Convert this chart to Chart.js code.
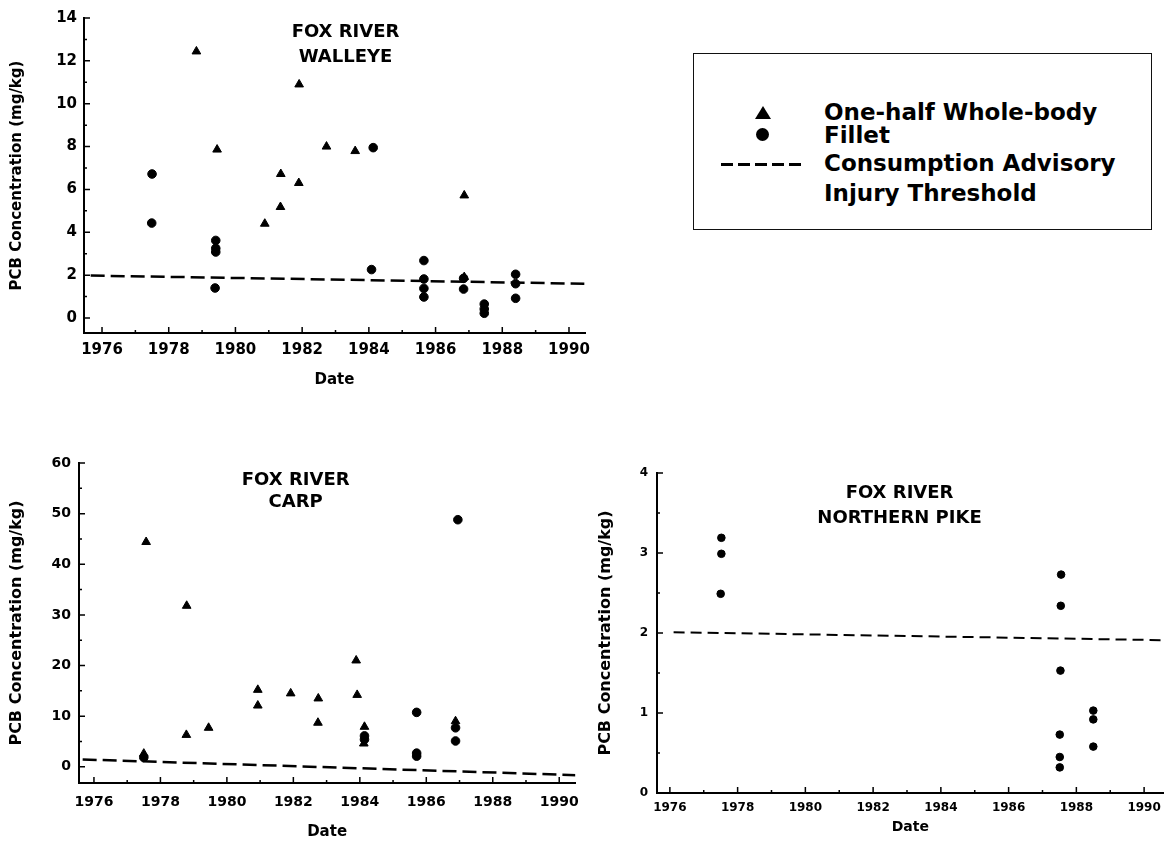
<!DOCTYPE html>
<html>
<head>
<meta charset="utf-8">
<title>Fox River PCB concentrations</title>
<script src="https://cdn.jsdelivr.net/npm/chart.js@4.4.1/dist/chart.umd.min.js"></script>
<style>
  body { margin: 0; background: #fff; width: 1169px; height: 848px; position: relative; overflow: hidden; font-family: "DejaVu Sans", sans-serif; }
  canvas { position: absolute; }
  #legend { position: absolute; left: 693px; top: 53px; width: 457px; height: 175px; border: 1.5px solid #111; }
  #legend .row { position: absolute; left: 130px; font-weight: bold; font-size: 23px; line-height: 1; color: #000; white-space: nowrap; }
  #legend .sym { position: absolute; }
  .tri { width: 0; height: 0; border-left: 8px solid transparent; border-right: 8px solid transparent; border-bottom: 13px solid #000; }
  .dot { width: 13px; height: 13px; border-radius: 50%; background: #000; }
  .dash { width: 80px; height: 2.5px; background: repeating-linear-gradient(to right, #000 0 12px, transparent 12px 17px); }
</style>
</head>
<body>
<canvas id="walleyeChart" width="600" height="400" style="left:0px;top:0px"></canvas>
<canvas id="carpChart" width="590" height="418" style="left:0px;top:430px"></canvas>
<canvas id="pikeChart" width="589" height="418" style="left:580px;top:430px"></canvas>

<div id="legend">
  <div class="sym tri" style="left:61px;top:52px"></div>
  <div class="sym dot" style="left:62px;top:74px"></div>
  <div class="sym dash" style="left:27px;top:109px"></div>
  <div class="row" style="top:47px">One-half Whole-body</div>
  <div class="row" style="top:70px">Fillet</div>
  <div class="row" style="top:98px">Consumption Advisory</div>
  <div class="row" style="top:128px">Injury Threshold</div>
</div>

<script>
// tick labels shared by all three panels
var yearTicks = [1976, 1978, 1980, 1982, 1984, 1986, 1988, 1990];

// walleye
var walleyeYTicks = [0, 2, 4, 6, 8, 10, 12, 14];
var walleyeWholeYear = [1978.83, 1979.45, 1980.88, 1981.35, 1981.36, 1981.91, 1981.90, 1982.73, 1983.59, 1986.86, 1986.86];
var walleyeWholePcb  = [12.44, 7.86, 4.40, 5.18, 6.72, 10.90, 6.30, 8.00, 7.79, 5.72, 1.91];
var walleyeFilletYear = [1977.50, 1977.49, 1979.41, 1979.41, 1979.41, 1979.39, 1984.13, 1984.08, 1985.65, 1985.65, 1985.65, 1985.65,
                         1986.84, 1986.84, 1987.46, 1987.46, 1987.46, 1988.40, 1988.40, 1988.40];
var walleyeFilletPcb  = [6.72, 4.43, 3.62, 3.25, 3.08, 1.40, 7.95, 2.26, 2.68, 1.82, 1.38, 0.98,
                         1.85, 1.35, 0.65, 0.42, 0.22, 2.04, 1.60, 0.92];
var walleyeAdvisoryYear = [1975.66, 1990.46];
var walleyeAdvisoryPcb  = [1.98, 1.60];

// carp
var carpYTicks = [0, 10, 20, 30, 40, 50, 60];
var carpWholeYear = [1977.57, 1977.50, 1978.79, 1978.78, 1979.45, 1980.93, 1980.93, 1981.92, 1982.75, 1982.74,
                     1983.89, 1983.92, 1984.14, 1984.12, 1986.88];
var carpWholePcb  = [44.4, 2.6, 31.8, 6.3, 7.7, 15.2, 12.1, 14.5, 13.5, 8.7, 21.0, 14.2, 7.9, 4.6, 9.0];
var carpFilletYear = [1977.50, 1986.95, 1985.71, 1985.71, 1985.71, 1984.14, 1984.14, 1986.88, 1986.88];
var carpFilletPcb  = [1.85, 48.8, 10.75, 2.7, 2.1, 6.1, 5.4, 7.7, 5.1];
var carpAdvisoryYear = [1975.66, 1990.51];
var carpAdvisoryPcb  = [1.45, -1.65];

// northern pike
var pikeYTicks = [0, 1, 2, 3, 4];
var pikeFilletYear = [1977.52, 1977.52, 1977.50, 1987.55, 1987.54, 1987.53, 1987.51, 1987.51, 1987.51, 1988.50, 1988.50, 1988.50];
var pikeFilletPcb  = [3.19, 2.99, 2.49, 2.73, 2.34, 1.53, 0.73, 0.45, 0.32, 1.03, 0.92, 0.58];
var pikeAdvisoryYear = [1976.11, 1990.58];
var pikeAdvisoryPcb  = [2.01, 1.91];

Chart.defaults.font.family = '"DejaVu Sans", sans-serif';
Chart.defaults.font.weight = 'bold';
Chart.defaults.color = '#000';

function toPoints(xs, ys)
{
    return xs.map(function (x, i) { return { x: x, y: ys[i] }; });
}

// short inward ticks like the original axes (major every other step)
var innerTicks = {
    id: 'innerTicks',
    afterDraw: function (chart, args, opts) {
        var ctx = chart.ctx, area = chart.chartArea;
        var xs = chart.scales.x, ys = chart.scales.y;
        ctx.save();
        ctx.strokeStyle = '#000';
        ctx.lineWidth = 1.5;
        ctx.beginPath();
        for (var v = Math.ceil(xs.min); v <= xs.max; v += 1) {
            var px = xs.getPixelForValue(v);
            ctx.moveTo(px, area.bottom);
            ctx.lineTo(px, area.bottom - (v % 2 === 0 ? 6 : 3));
        }
        var step = opts.yMinor;
        for (var k = Math.ceil(ys.min / step); k * step <= ys.max + 1e-9; k++) {
            var py = ys.getPixelForValue(k * step);
            ctx.moveTo(area.left, py);
            ctx.lineTo(area.left + (k % 2 === 0 ? 6 : 3), py);
        }
        ctx.stroke();
        ctx.restore();
    }
};

function panelTitle(lines, year, top, gap)
{
    return {
        id: 'panelTitle',
        afterDraw: function (chart) {
            var ctx = chart.ctx;
            var cx = chart.scales.x.getPixelForValue(year);
            ctx.save();
            ctx.fillStyle = '#000';
            ctx.font = 'bold 18px "DejaVu Sans"';
            ctx.textAlign = 'center';
            ctx.textBaseline = 'middle';
            lines.forEach(function (t, i) {
                ctx.fillText(t, cx, chart.chartArea.top + top + i * gap);
            });
            ctx.restore();
        }
    };
}

function createFishChart(id, s)
{
    var ctx = document.getElementById(id).getContext('2d');
    var datasets = [];

    if (s.whole) {
        datasets.push({
            label: 'One-half Whole-body',
            data: s.whole,
            pointStyle: 'triangle',
            pointRadius: s.triRadius,
            backgroundColor: '#000',
            borderColor: '#000',
            borderWidth: 1
        });
    }
    datasets.push({
        label: 'Fillet',
        data: s.fillet,
        pointStyle: 'circle',
        pointRadius: s.dotRadius,
        backgroundColor: '#000',
        borderColor: '#000',
        borderWidth: 1
    });
    datasets.push({
        label: 'Consumption Advisory Injury Threshold',
        data: s.advisory,
        showLine: true,
        borderColor: '#000',
        borderWidth: s.dashWidth,
        borderDash: s.dash,
        pointRadius: 0,
        fill: false
    });

    var myChart = new Chart(ctx, {
        type: 'scatter',
        data: { datasets: datasets },
        plugins: [innerTicks, panelTitle(s.title, s.titleYear, s.titleTop, s.titleGap)],
        options: {
            responsive: false,
            animation: false,
            layout: { padding: s.padding },
            plugins: {
                legend: { display: false },
                tooltip: { enabled: false },
                innerTicks: { yMinor: s.yMinor }
            },
            scales: {
                x: {
                    type: 'linear',
                    min: s.xMin,
                    max: s.xMax,
                    afterBuildTicks: function (scale) {
                        scale.ticks = yearTicks.map(function (v) { return { value: v }; });
                    },
                    afterFit: function (scale) { scale.height = s.xHeight; },
                    ticks: {
                        font: { size: s.xFont },
                        padding: s.xPad,
                        maxRotation: 0,
                        autoSkip: false,
                        callback: function (v) { return String(v); }
                    },
                    grid: { drawOnChartArea: false, drawTicks: false },
                    border: { color: '#000', width: 2 },
                    title: {
                        display: true,
                        text: 'Date',
                        font: { size: s.dateFont },
                        padding: { top: 0, bottom: s.datePad }
                    }
                },
                y: {
                    type: 'linear',
                    min: s.yMin,
                    max: s.yMax,
                    afterBuildTicks: function (scale) {
                        scale.ticks = s.yTicks.map(function (v) { return { value: v }; });
                    },
                    afterFit: function (scale) { scale.width = s.yWidth; },
                    ticks: {
                        font: { size: s.yFont },
                        padding: s.yPad,
                        callback: function (v) { return String(v); }
                    },
                    grid: { drawOnChartArea: false, drawTicks: false },
                    border: { color: '#000', width: 2 },
                    title: {
                        display: true,
                        text: 'PCB Concentration (mg/kg)',
                        font: { size: s.yTitleFont },
                        padding: { top: s.yTitlePad, bottom: 0 }
                    }
                }
            }
        }
    });
    return myChart;
}

createFishChart('walleyeChart', {
    whole: toPoints(walleyeWholeYear, walleyeWholePcb),
    fillet: toPoints(walleyeFilletYear, walleyeFilletPcb),
    advisory: toPoints(walleyeAdvisoryYear, walleyeAdvisoryPcb),
    title: ['FOX RIVER', 'WALLEYE'], titleYear: 1983.3, titleTop: 14, titleGap: 25,
    xMin: 1975.46, xMax: 1990.48, yMin: -0.7, yMax: 14, yTicks: walleyeYTicks, yMinor: 1,
    padding: { left: 0, top: 18, right: 15, bottom: 7 },
    xHeight: 60, yWidth: 84,
    xFont: 15, xPad: 8, dateFont: 15, datePad: 4,
    yFont: 15, yPad: 7, yTitleFont: 15, yTitlePad: 8,
    triRadius: 5, dotRadius: 4.3, dashWidth: 2.5, dash: [14, 6]
});

createFishChart('carpChart', {
    whole: toPoints(carpWholeYear, carpWholePcb),
    fillet: toPoints(carpFilletYear, carpFilletPcb),
    advisory: toPoints(carpAdvisoryYear, carpAdvisoryPcb),
    title: ['FOX RIVER', 'CARP'], titleYear: 1982.07, titleTop: 17, titleGap: 22,
    xMin: 1975.55, xMax: 1990.48, yMin: -3.2, yMax: 60, yTicks: carpYTicks, yMinor: 5,
    padding: { left: 0, top: 33, right: 9, bottom: 3 },
    xHeight: 62, yWidth: 79,
    xFont: 14, xPad: 11, dateFont: 15, datePad: 4,
    yFont: 14, yPad: 8, yTitleFont: 16, yTitlePad: 7,
    triRadius: 5, dotRadius: 4.3, dashWidth: 2.5, dash: [14, 6]
});

createFishChart('pikeChart', {
    whole: null,
    fillet: toPoints(pikeFilletYear, pikeFilletPcb),
    advisory: toPoints(pikeAdvisoryYear, pikeAdvisoryPcb),
    title: ['FOX RIVER', 'NORTHERN PIKE'], titleYear: 1982.78, titleTop: 20, titleGap: 25,
    xMin: 1975.62, xMax: 1990.58, yMin: 0, yMax: 4, yTicks: pikeYTicks, yMinor: 0.5,
    padding: { left: 0, top: 43, right: 0, bottom: 9 },
    xHeight: 46, yWidth: 77,
    xFont: 12, xPad: 8, dateFont: 14, datePad: 3,
    yFont: 12, yPad: 9, yTitleFont: 16, yTitlePad: 16,
    triRadius: 5, dotRadius: 3.8, dashWidth: 2, dash: [11, 6]
});
</script>
</body>
</html>
